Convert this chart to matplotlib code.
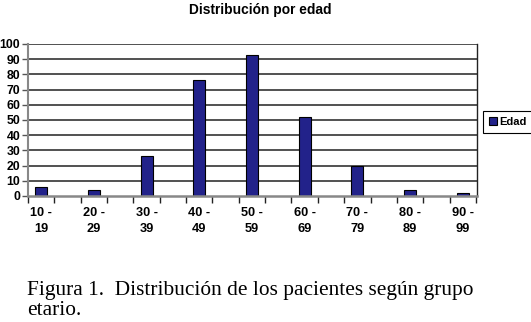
import matplotlib
matplotlib.use("Agg")
import matplotlib.pyplot as plt
import numpy as np

categories = ["10 -\n19", "20 -\n29", "30 -\n39", "40 -\n49", "50 -\n59",
              "60 -\n69", "70 -\n79", "80 -\n89", "90 -\n99"]
values = [6, 4, 26, 76, 93, 52, 20, 4, 2]
yticks = list(range(0, 101, 10))
title = "Distribución por edad"
series_name = "Edad"
caption = "Figura 1.  Distribución de los pacientes según grupo\netario."

W, H = 531, 322
fig = plt.figure(figsize=(W / 100, H / 100), dpi=100)
fig.patch.set_facecolor("white")

def fx(px): return px / W
def fy(py): return 1 - py / H

ax = fig.add_axes([fx(28), fy(196), fx(477) - fx(28), fy(44) - fy(196)])
x = np.arange(len(values))
ax.bar(x, values, width=0.23, color="#22228a", edgecolor="black", linewidth=0.8,
       label=series_name, zorder=3)
ax.set_xlim(-0.25, 8.27)
ax.set_ylim(0, 100)

ax.set_yticks(yticks)
ax.set_yticklabels([str(v) for v in yticks], fontweight="bold", fontsize=8.8,
                   family="Liberation Sans")
ax.tick_params(axis="y", length=4, width=1, color="#555555", pad=1.5)
for v in yticks[1:]:
    ax.axhline(v, color="#222222", linewidth=1.1, zorder=1)

ax.set_xticks(x)
ax.set_xticklabels(categories, fontweight="bold", fontsize=9.2,
                   family="Liberation Sans", linespacing=1.45)
ax.tick_params(axis="x", length=0, pad=8)
ax.set_xticks(np.arange(-0.25, 8.3, 0.5), minor=True)
ax.tick_params(axis="x", which="minor", length=5, width=1, color="#222222")

ax.spines["top"].set_visible(False)
ax.spines["left"].set_color("#888888")
ax.spines["left"].set_linewidth(1.5)
ax.spines["bottom"].set_color("#888888")
ax.spines["bottom"].set_linewidth(1.8)
ax.spines["bottom"].set_zorder(4)
ax.spines["right"].set_color("#222222")
ax.spines["right"].set_linewidth(1.0)

fig.text(fx(260), fy(10), title, ha="center", va="center", fontweight="bold",
         fontsize=9.9, family="Liberation Sans")

leg = fig.legend(loc="center left", bbox_to_anchor=(fx(483), fy(122)),
                 prop={"family": "Liberation Sans", "weight": "bold", "size": 8},
                 handlelength=0.7, handleheight=0.7, handletextpad=0.25,
                 borderpad=0.55, fancybox=False, framealpha=1, borderaxespad=0)
leg.get_frame().set_edgecolor("black")
leg.get_frame().set_linewidth(0.8)

fig.text(fx(27), fy(281), caption, ha="left", va="top", fontsize=15.4,
         family="Liberation Serif", linespacing=1.1)

fig.savefig("out.png", dpi=100, facecolor="white")
